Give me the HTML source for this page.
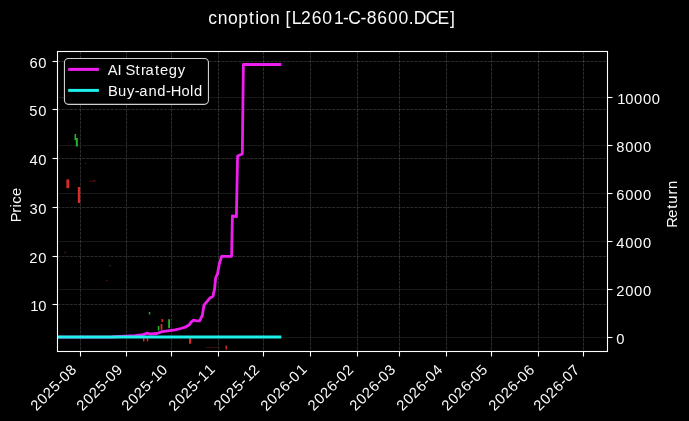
<!DOCTYPE html>
<html><head><meta charset="utf-8"><style>
html,body{margin:0;padding:0;background:#000;width:689px;height:421px;overflow:hidden}
svg{display:block;will-change:transform}
.gv{stroke:#808080;stroke-opacity:0.38;stroke-width:0.9;stroke-dasharray:3.1 1.0}
.gh{stroke:#808080;stroke-opacity:0.36;stroke-width:0.9;stroke-dasharray:3.1 1.0}
.gr{stroke:#808080;stroke-opacity:0.2;stroke-width:0.9}
</style></head><body>
<svg width="689" height="421" viewBox="0 0 689 421">
<defs><clipPath id="ax"><rect x="57.5" y="51.5" width="550" height="300"/></clipPath></defs><rect x="0" y="0" width="689" height="421" fill="#000"/>
<g><line x1="80.5" y1="51.5" x2="80.5" y2="351.5" class="gv"/><line x1="126.5" y1="51.5" x2="126.5" y2="351.5" class="gv"/><line x1="171.5" y1="51.5" x2="171.5" y2="351.5" class="gv"/><line x1="218.5" y1="51.5" x2="218.5" y2="351.5" class="gv"/><line x1="263.5" y1="51.5" x2="263.5" y2="351.5" class="gv"/><line x1="310.5" y1="51.5" x2="310.5" y2="351.5" class="gv"/><line x1="357.5" y1="51.5" x2="357.5" y2="351.5" class="gv"/><line x1="399.5" y1="51.5" x2="399.5" y2="351.5" class="gv"/><line x1="446.5" y1="51.5" x2="446.5" y2="351.5" class="gv"/><line x1="491.5" y1="51.5" x2="491.5" y2="351.5" class="gv"/><line x1="538.5" y1="51.5" x2="538.5" y2="351.5" class="gv"/><line x1="583.5" y1="51.5" x2="583.5" y2="351.5" class="gv"/><line x1="57.5" y1="61.5" x2="607.5" y2="61.5" class="gh"/><line x1="57.5" y1="109.5" x2="607.5" y2="109.5" class="gh"/><line x1="57.5" y1="158.5" x2="607.5" y2="158.5" class="gh"/><line x1="57.5" y1="207.5" x2="607.5" y2="207.5" class="gh"/><line x1="57.5" y1="256.5" x2="607.5" y2="256.5" class="gh"/><line x1="57.5" y1="304.5" x2="607.5" y2="304.5" class="gh"/><line x1="57.5" y1="337.5" x2="607.5" y2="337.5" class="gr"/><line x1="57.5" y1="289.5" x2="607.5" y2="289.5" class="gr"/><line x1="57.5" y1="241.5" x2="607.5" y2="241.5" class="gr"/><line x1="57.5" y1="193.5" x2="607.5" y2="193.5" class="gr"/><line x1="57.5" y1="145.5" x2="607.5" y2="145.5" class="gr"/><line x1="57.5" y1="97.5" x2="607.5" y2="97.5" class="gr"/></g>
<g><rect x="66.4" y="179.4" width="2.8" height="8.8" fill="#dc2a2a"/><rect x="74.5" y="134" width="1.6" height="6" fill="#22b42c"/><rect x="75.8" y="138" width="2" height="8.5" fill="#22b42c"/><rect x="77.8" y="187" width="2.4" height="16" fill="#dc2a2a"/><rect x="148.8" y="312" width="1.4" height="2.5" fill="#22b42c"/><rect x="161.5" y="319" width="1.6" height="3" fill="#dc2a2a"/><rect x="160.6" y="324" width="1.8" height="5.8" fill="#dc2a2a"/><rect x="157.8" y="326" width="1.6" height="4.6" fill="#22b42c"/><rect x="168.2" y="319.2" width="1.8" height="9" fill="#22b42c"/><rect x="143" y="338" width="1.4" height="3.5" fill="#dc2a2a"/><rect x="146.8" y="338" width="1.4" height="3.5" fill="#dc2a2a"/><rect x="189" y="338.2" width="2.2" height="5.5" fill="#dc2a2a"/><rect x="225.5" y="345.5" width="1.4" height="4" fill="#dc2a2a"/><rect x="85.2" y="162.6" width="1.2" height="1.4" fill="#d03030" fill-opacity="0.45"/><rect x="89" y="180.6" width="6" height="1.2" fill="#d03030" fill-opacity="0.3"/><rect x="94.2" y="179.8" width="1.2" height="1.6" fill="#d03030" fill-opacity="0.5"/><rect x="64.6" y="251.6" width="1.2" height="2" fill="#d03030" fill-opacity="0.4"/><rect x="109.2" y="264.8" width="1.2" height="1.6" fill="#d03030" fill-opacity="0.5"/><rect x="106.2" y="279.8" width="1.2" height="1.4" fill="#d03030" fill-opacity="0.5"/><rect x="206" y="347" width="14" height="1" fill="#d03030" fill-opacity="0.25"/></g>
<g clip-path="url(#ax)">
<polyline points="57.5,337.1 112,337.0 120,336.5 135,335.6 143,334.6 147.4,333.2 150,334 157,333.5 162,331.6 168,330.8 175,329.8 180.7,328.5 185.4,327.2 189.2,324.8 191.1,322.2 193.5,320.2 196.8,320.8 199.6,320.9 202.3,315.5 203.8,306 204.6,304.4 209.6,298.3 212.9,296.4 214.5,289.4 215.7,277.6 217.5,274 219.2,264.5 221.6,256.3 231.6,256.3 232.4,216 236.4,216.5 237.6,156 242.3,154 243.4,64.5 280.0,64.5" fill="none" stroke="#ee1eee" stroke-width="2.8" stroke-linejoin="round" stroke-linecap="square"/>
<line x1="57.5" y1="336.9" x2="279.8" y2="336.9" stroke="#1ef0ec" stroke-width="3.0" stroke-linecap="square"/>
</g>
<rect x="57.5" y="51.5" width="550.0" height="300.0" fill="none" stroke="#fff" stroke-width="1.1"/>
<g stroke="#fff" stroke-width="1.1"><line x1="80.5" y1="351.5" x2="80.5" y2="356.5"/><line x1="126.5" y1="351.5" x2="126.5" y2="356.5"/><line x1="171.5" y1="351.5" x2="171.5" y2="356.5"/><line x1="218.5" y1="351.5" x2="218.5" y2="356.5"/><line x1="263.5" y1="351.5" x2="263.5" y2="356.5"/><line x1="310.5" y1="351.5" x2="310.5" y2="356.5"/><line x1="357.5" y1="351.5" x2="357.5" y2="356.5"/><line x1="399.5" y1="351.5" x2="399.5" y2="356.5"/><line x1="446.5" y1="351.5" x2="446.5" y2="356.5"/><line x1="491.5" y1="351.5" x2="491.5" y2="356.5"/><line x1="538.5" y1="351.5" x2="538.5" y2="356.5"/><line x1="583.5" y1="351.5" x2="583.5" y2="356.5"/><line x1="52.5" y1="61.5" x2="57.5" y2="61.5"/><line x1="52.5" y1="109.5" x2="57.5" y2="109.5"/><line x1="52.5" y1="158.5" x2="57.5" y2="158.5"/><line x1="52.5" y1="207.5" x2="57.5" y2="207.5"/><line x1="52.5" y1="256.5" x2="57.5" y2="256.5"/><line x1="52.5" y1="304.5" x2="57.5" y2="304.5"/><line x1="607.5" y1="337.5" x2="612.5" y2="337.5"/><line x1="607.5" y1="289.5" x2="612.5" y2="289.5"/><line x1="607.5" y1="241.5" x2="612.5" y2="241.5"/><line x1="607.5" y1="193.5" x2="612.5" y2="193.5"/><line x1="607.5" y1="145.5" x2="612.5" y2="145.5"/><line x1="607.5" y1="97.5" x2="612.5" y2="97.5"/></g>
<g fill="#fafafa" font-family='"Liberation Sans", sans-serif'><text x="29.41 38.24" y="67.7" font-size="14.72">60</text><text x="29.35 38.24" y="115.7" font-size="14.72">50</text><text x="29.41 38.24" y="164.7" font-size="14.72">40</text><text x="29.43 38.24" y="213.7" font-size="14.72">30</text><text x="29.22 38.24" y="262.7" font-size="14.72">20</text><text x="30.33 38.24" y="310.7" font-size="14.72">10</text><text x="616.37" y="343.7" font-size="14.72">0</text><text x="616.19 625.21 634.05 642.88" y="295.7" font-size="14.72">2000</text><text x="616.37 625.21 634.05 642.88" y="247.7" font-size="14.72">4000</text><text x="616.37 625.21 634.05 642.88" y="199.7" font-size="14.72">6000</text><text x="616.37 625.21 634.05 642.88" y="151.7" font-size="14.72">8000</text><text x="617.3 625.21 634.05 642.88 651.72" y="103.7" font-size="14.72">10000</text><text transform="translate(70.7,370.1) rotate(-45)" x="-53.48 -44.46 -35.8 -26.83 -18.21 -12.93 -4.09" y="5.14" font-size="14.72">2025-08</text><text transform="translate(116.7,370.1) rotate(-45)" x="-53.43 -44.41 -35.75 -26.79 -18.16 -12.88 -4.09" y="5.14" font-size="14.72">2025-09</text><text transform="translate(161.7,370.1) rotate(-45)" x="-53.48 -44.46 -35.8 -26.83 -18.21 -12.01 -4.09" y="5.14" font-size="14.72">2025-10</text><text transform="translate(208.7,370.1) rotate(-45)" x="-53.6 -44.58 -35.93 -26.96 -18.34 -12.13 -3.29" y="5.14" font-size="14.72">2025-11</text><text transform="translate(253.7,370.1) rotate(-45)" x="-53.29 -44.27 -35.62 -26.65 -18.03 -11.82 -4.09" y="5.14" font-size="14.72">2025-12</text><text transform="translate(300.7,370.1) rotate(-45)" x="-53.6 -44.58 -35.93 -26.91 -18.34 -13.06 -3.29" y="5.14" font-size="14.72">2026-01</text><text transform="translate(347.7,370.1) rotate(-45)" x="-53.29 -44.27 -35.62 -26.6 -18.03 -12.75 -4.09" y="5.14" font-size="14.72">2026-02</text><text transform="translate(389.7,370.1) rotate(-45)" x="-53.45 -44.43 -35.78 -26.76 -18.19 -12.91 -4.05" y="5.14" font-size="14.72">2026-03</text><text transform="translate(436.7,370.1) rotate(-45)" x="-53.43 -44.41 -35.75 -26.73 -18.16 -12.88 -4.05" y="5.14" font-size="14.72">2026-04</text><text transform="translate(481.7,370.1) rotate(-45)" x="-53.41 -44.39 -35.73 -26.71 -18.14 -12.86 -4.08" y="5.14" font-size="14.72">2026-05</text><text transform="translate(528.7,370.1) rotate(-45)" x="-53.53 -44.51 -35.85 -26.83 -18.26 -12.98 -4.14" y="5.14" font-size="14.72">2026-06</text><text transform="translate(573.7,370.1) rotate(-45)" x="-53.46 -44.43 -35.78 -26.76 -18.19 -12.91 -4.1" y="5.14" font-size="14.72">2026-07</text></g>
<rect x="64.45" y="58.55" width="144" height="45.8" rx="4" fill="#000" stroke="#cfcfcf" stroke-width="1.1"/>
<line x1="68.2" y1="69.4" x2="98.9" y2="69.4" stroke="#ee1eee" stroke-width="3.0"/>
<line x1="68.2" y1="90.4" x2="98.9" y2="90.4" stroke="#1ef0ec" stroke-width="3.0"/>
<g fill="#fafafa" font-family='"Liberation Sans", sans-serif'><g transform="translate(21,220.4) rotate(-90)"><text x="-1.86 7.68 13.02 16.55 24.43" y="0" font-size="14.72">Price</text></g><g transform="translate(677,226.2) rotate(-90)"><text x="-1.63 8.49 17.47 22.56 31.75 37.13" y="0" font-size="14.72">Return</text></g><text x="208.15 217.68 227.94 238.34 249.12 255.2 259.62 269.95 280.02 285.42 291.8 301.1 311.83 322.35 333.97 343.07 348.32 360.57 366.86 377.37 387.89 398.41 408.73 413.86 425.87 437.39 449.95" y="23.7" font-size="17.52">cnoption [L2601-C-8600.DCE]</text><text x="107.78 117.45 121.54 125.53 135.41 140.89 145.56 155.08 160.09 168.66 177.67" y="74.7" font-size="14.72">AI Strategy</text><text x="107.97 117.94 126.89 134.74 139.34 148.55 157.25 165.89 170.75 181.45 190.08 193.88" y="95.7" font-size="14.72">Buy-and-Hold</text></g>
</svg>
</body></html>
